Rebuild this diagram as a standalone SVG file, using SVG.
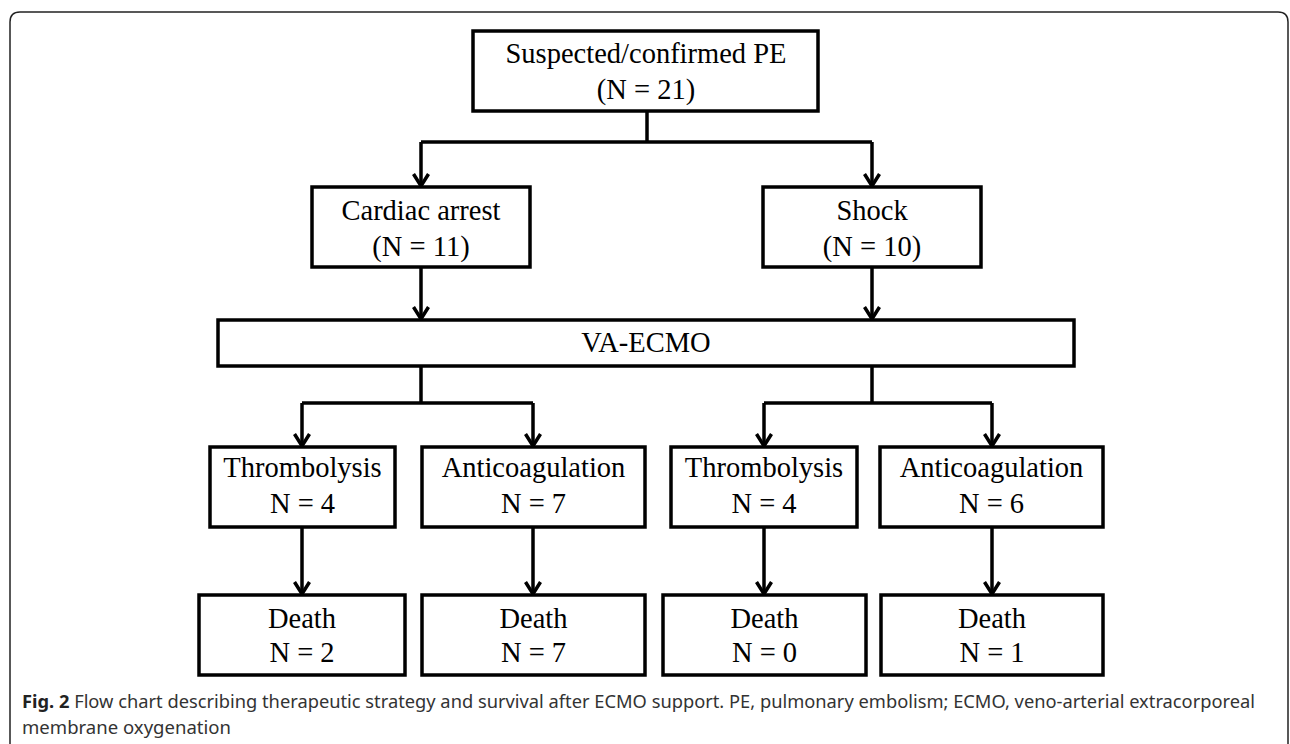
<svg xmlns="http://www.w3.org/2000/svg" width="1290" height="744" viewBox="0 0 1290 744">
<defs>
<style>
.box{fill:#fff;stroke:#000;stroke-width:3.5}
.t{font-family:"Liberation Serif","Times New Roman",serif;font-size:28.5px;fill:#000;text-anchor:middle}
.c{fill:none;stroke:#000;stroke-width:3.5}
.a{marker-end:url(#ah)}
.cap{font-family:"Noto Sans","Open Sans",sans-serif;font-size:17.5px;fill:#333}
</style>
<marker id="ah" markerUnits="userSpaceOnUse" orient="auto" refX="0" refY="0" markerWidth="30" markerHeight="30" viewBox="-15 -15 30 30" overflow="visible">
<path d="M-12,-7.5 L0,0 L-12,7.5" fill="none" stroke="#000" stroke-width="3.5" stroke-linejoin="miter"/>
</marker>
</defs>
<rect width="1290" height="744" fill="#fff"/>
<path d="M10,744 V22 Q10,12 20,12 H1278 Q1288,12 1288,22 V744" fill="none" stroke="#222" stroke-width="1.5"/>

<g id="connectors">
<path class="c" d="M647,111 V142"/>
<path class="c" d="M421,142 H872"/>
<path class="c a" d="M421,142 V186"/>
<path class="c a" d="M872,142 V186"/>
<path class="c a" d="M421,267 V319"/>
<path class="c a" d="M872,267 V319"/>
<path class="c" d="M421,366 V403"/>
<path class="c" d="M302,403 H533"/>
<path class="c a" d="M302,403 V446"/>
<path class="c a" d="M533,403 V446"/>
<path class="c" d="M872,366 V403"/>
<path class="c" d="M764,403 H992"/>
<path class="c a" d="M764,403 V446"/>
<path class="c a" d="M992,403 V446"/>
<path class="c a" d="M302,527 V594"/>
<path class="c a" d="M533,527 V594"/>
<path class="c a" d="M764,527 V594"/>
<path class="c a" d="M992,527 V594"/>
</g>

<g id="pe">
<rect class="box" x="473" y="31" width="345" height="80"/>
<text class="t" x="646" y="63">Suspected/confirmed PE</text>
<text class="t" x="646" y="99">(N = 21)</text>
</g>
<g id="cardiac">
<rect class="box" x="312" y="187" width="218" height="80"/>
<text class="t" x="421" y="220">Cardiac arrest</text>
<text class="t" x="421" y="256">(N = 11)</text>
</g>
<g id="shock">
<rect class="box" x="763" y="187" width="218" height="80"/>
<text class="t" x="872" y="220">Shock</text>
<text class="t" x="872" y="256">(N = 10)</text>
</g>
<g id="vaecmo">
<rect class="box" x="218" y="320" width="856" height="46"/>
<text class="t" x="646" y="352">VA-ECMO</text>
</g>
<g id="thrombo1">
<rect class="box" x="210" y="447" width="185" height="80"/>
<text class="t" x="302.5" y="477">Thrombolysis</text>
<text class="t" x="302.5" y="513">N = 4</text>
</g>
<g id="anticoag1">
<rect class="box" x="422" y="447" width="223" height="80"/>
<text class="t" x="533.5" y="477">Anticoagulation</text>
<text class="t" x="533.5" y="513">N = 7</text>
</g>
<g id="thrombo2">
<rect class="box" x="671" y="447" width="186" height="80"/>
<text class="t" x="764" y="477">Thrombolysis</text>
<text class="t" x="764" y="513">N = 4</text>
</g>
<g id="anticoag2">
<rect class="box" x="880" y="447" width="223" height="80"/>
<text class="t" x="991.5" y="477">Anticoagulation</text>
<text class="t" x="991.5" y="513">N = 6</text>
</g>
<g id="death1">
<rect class="box" x="199" y="595" width="206" height="80"/>
<text class="t" x="302" y="628">Death</text>
<text class="t" x="302" y="662">N = 2</text>
</g>
<g id="death2">
<rect class="box" x="422" y="595" width="223" height="80"/>
<text class="t" x="533.5" y="628">Death</text>
<text class="t" x="533.5" y="662">N = 7</text>
</g>
<g id="death3">
<rect class="box" x="663" y="595" width="203" height="80"/>
<text class="t" x="764.5" y="628">Death</text>
<text class="t" x="764.5" y="662">N = 0</text>
</g>
<g id="death4">
<rect class="box" x="881" y="595" width="222" height="80"/>
<text class="t" x="992" y="628">Death</text>
<text class="t" x="992" y="662">N = 1</text>
</g>

<g id="caption">
<text class="cap" x="22" y="708" textLength="1233" lengthAdjust="spacingAndGlyphs"><tspan font-weight="bold" fill="#222">Fig. 2</tspan> Flow chart describing therapeutic strategy and survival after ECMO support. PE, pulmonary embolism; ECMO, veno-arterial extracorporeal</text>
<text class="cap" x="22" y="734" textLength="209" lengthAdjust="spacingAndGlyphs">membrane oxygenation</text>
</g>
</svg>
